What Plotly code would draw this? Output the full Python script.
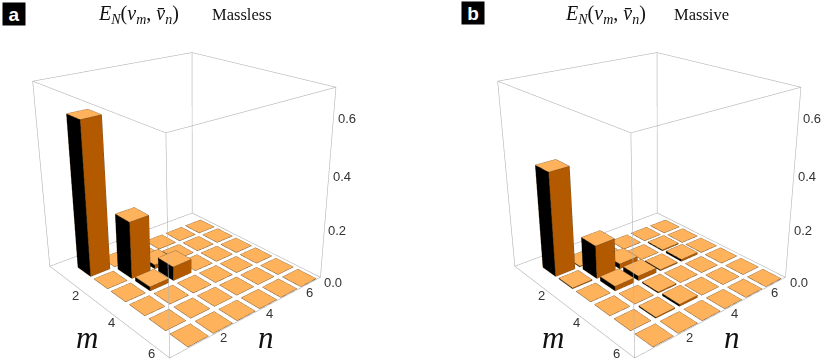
import plotly.graph_objects as go

# symmetric matrices, cells (anything not listed is 0)
grid = [1, 2, 3, 4, 5, 6]
massless = {(1, 1): 0.59, (2, 2): 0.224, (3, 3): 0.055, (2, 3): 0.016, (3, 2): 0.016}
massive = {(1, 1): 0.405, (2, 2): 0.131, (3, 3): 0.018, (2, 3): 0.02, (3, 2): 0.018,
           (3, 5): 0.008, (5, 3): 0.008, (2, 5): 0.004, (5, 2): 0.004,
           (3, 4): 0.004, (4, 3): 0.004, (1, 2): 0.003, (2, 1): 0.003}
m_ticks = [2, 4, 6]
n_ticks = [2, 4, 6]
z_ticks = [0.0, 0.2, 0.4, 0.6]

m_range = [-0.09, 6.44]
n_range = [-0.118, 6.576]
z_range = [0, 0.7]

TOP = '#FFB25C'
RIGHT = '#B35A00'
LEFT = '#000000'
EDGE = '#6b4e2a'
BOX = '#b4b4b4'
TEXT = '#333333'
W, H, OFFSET = 830, 548, 105
HALF = 0.4
PAD = 0.004  # fraction of each axis left outside the frame so the frame lines are not clipped


def padded(r):
    span = r[1] - r[0]
    return [r[0] - PAD * span, r[1] + PAD * span]


def bars(values):
    xs, ys, zs, i, j, k, cols = [], [], [], [], [], [], []
    ex, ey, ez = [], [], []
    for m in grid:
        for n in grid:
            v = values.get((m, n), 0)
            x0, x1, y0, y1 = m - HALF, m + HALF, n - HALF, n + HALF
            b = len(xs)
            xs += [x0, x1, x1, x0, x0, x1, x1, x0]
            ys += [y0, y0, y1, y1, y0, y0, y1, y1]
            zs += [0, 0, 0, 0, v, v, v, v]
            # top
            i += [b + 4, b + 4]; j += [b + 5, b + 6]; k += [b + 6, b + 7]
            cols += [TOP, TOP]
            ex += [x0, x1, x1, x0, x0, None]
            ey += [y0, y0, y1, y1, y0, None]
            ez += [v, v, v, v, v, None]
            if v > 0:
                # face towards -n is black, face towards +m is orange
                i += [b, b]; j += [b + 1, b + 5]; k += [b + 5, b + 4]
                cols += [LEFT, LEFT]
                i += [b + 1, b + 1]; j += [b + 2, b + 6]; k += [b + 6, b + 5]
                cols += [RIGHT, RIGHT]
                ex += [x1, x1, None, x0, x0, None, x1, x1, None, x1, x0, None, x1, x1, None]
                ey += [y0, y0, None, y0, y0, None, y1, y1, None, y0, y0, None, y0, y1, None]
                ez += [0, v, None, 0, v, None, 0, v, None, 0, 0, None, 0, 0, None]
    mesh = go.Mesh3d(x=xs, y=ys, z=zs, i=i, j=j, k=k, facecolor=cols, flatshading=True,
                     lighting=dict(ambient=1, diffuse=0, specular=0, roughness=1, fresnel=0),
                     hoverinfo='skip', showscale=False)
    edges = go.Scatter3d(x=ex, y=ey, z=ez, mode='lines', line=dict(color=EDGE, width=1),
                         hoverinfo='skip', showlegend=False)
    return mesh, edges


def frame():
    a0, a1 = m_range
    b0, b1 = n_range
    c0, c1 = z_range
    ex, ey, ez = [], [], []
    for c in (c0, c1):
        ex += [a0, a1, a1, a0, a0, None]
        ey += [b0, b0, b1, b1, b0, None]
        ez += [c, c, c, c, c, None]
    for a, b in [(a0, b0), (a1, b0), (a1, b1), (a0, b1)]:
        ex += [a, a, None]
        ey += [b, b, None]
        ez += [c0, c1, None]
    return go.Scatter3d(x=ex, y=ey, z=ez, mode='lines', line=dict(color=BOX, width=1.2),
                        hoverinfo='skip', showlegend=False)


def tick_labels():
    ann = []
    base = dict(showarrow=False, font=dict(family='Liberation Sans', size=13, color=TEXT))
    for t, (dx, dy) in zip(m_ticks, [(-6.6, -4), (-7.3, -4), (-8.2, -3)]):
        ann.append(dict(x=t, y=n_range[0], z=0, text=str(t), xshift=dx, yshift=dy, **base))
    for t in n_ticks:
        ann.append(dict(x=m_range[1], y=t, z=0, text=str(t), xshift=0, yshift=-9, **base))
    for t, dy in zip(z_ticks, [-5, -3, -2, -1]):
        ann.append(dict(x=m_range[1], y=n_range[1], z=t, text=f'{t:.1f}', xshift=13, yshift=dy, **base))
    return ann


def scene(cx):
    half = 170
    axis = dict(visible=False, autorange=False)
    return dict(
        domain=dict(x=[(cx - half) / W, (cx + half) / W], y=[0, 1]),
        xaxis=dict(range=padded(m_range), **axis),
        yaxis=dict(range=padded(n_range), **axis),
        zaxis=dict(range=padded(z_range), **axis),
        aspectmode='manual',
        aspectratio=dict(x=1, y=0.986, z=0.993),
        camera=dict(eye=dict(x=2.2701, y=-1.8906, z=1.2557),
                    center=dict(x=0.0181, y=0.0584, z=0.0647),
                    up=dict(x=0, y=0, z=1),
                    projection=dict(type='perspective')),
        annotations=tick_labels(),
        bgcolor='white',
    )


def note(x, y, text, **kw):
    return dict(xref='paper', yref='paper', x=x / W, y=1 - (y + OFFSET) / H, text=text,
                showarrow=False, xanchor='center', yanchor='middle', **kw)


SERIF = dict(family='Liberation Serif', size=16.5, color='#111111')
MATH = dict(family='Liberation Serif', size=20, color='#111111')
LABEL = dict(family='Liberation Serif', size=31, color='#111111')
BADGE = dict(family='Liberation Sans', size=19, color='white')
FORMULA = '<i>E</i><sub><i>N</i></sub>(<i>v</i><sub><i>m</i></sub>, <i>v̄</i><sub><i>n</i></sub>)'

fig = go.Figure()
for values, name in [(massless, 'scene'), (massive, 'scene2')]:
    mesh, edges = bars(values)
    mesh.scene = name
    edges.scene = name
    box = frame()
    box.scene = name
    fig.add_traces([mesh, edges, box])

annotations = [
    note(13.5, 14, '<b>a</b>', font=BADGE, bgcolor='black', width=20, height=20),
    note(138, 15, FORMULA, font=MATH),
    note(241.7, 15, 'Massless', font=SERIF),
    note(87, 337, '<i>m</i>', font=LABEL),
    note(266, 337, '<i>n</i>', font=LABEL),
    note(472.7, 13, '<b>b</b>', font=BADGE, bgcolor='black', width=20, height=20),
    note(605, 15, FORMULA, font=MATH),
    note(701, 15, 'Massive', font=SERIF),
    note(553, 337, '<i>m</i>', font=LABEL),
    note(732, 337, '<i>n</i>', font=LABEL),
]

fig.update_layout(
    width=W, height=H, autosize=False,
    margin=dict(l=0, r=0, t=0, b=0),
    paper_bgcolor='white',
    showlegend=False,
    scene=scene(194),
    scene2=scene(659.3),
    annotations=annotations,
)

# the scenes are taller than the window so their centres sit where the picture's horizon needs them
shift = ("var gd=document.getElementById('{plot_id}');"
         "document.body.style.margin='0';"
         "document.documentElement.style.overflow='hidden';"
         "gd.style.marginTop='-%dpx';" % OFFSET)
fig.write_html("out.html", post_script=shift)
